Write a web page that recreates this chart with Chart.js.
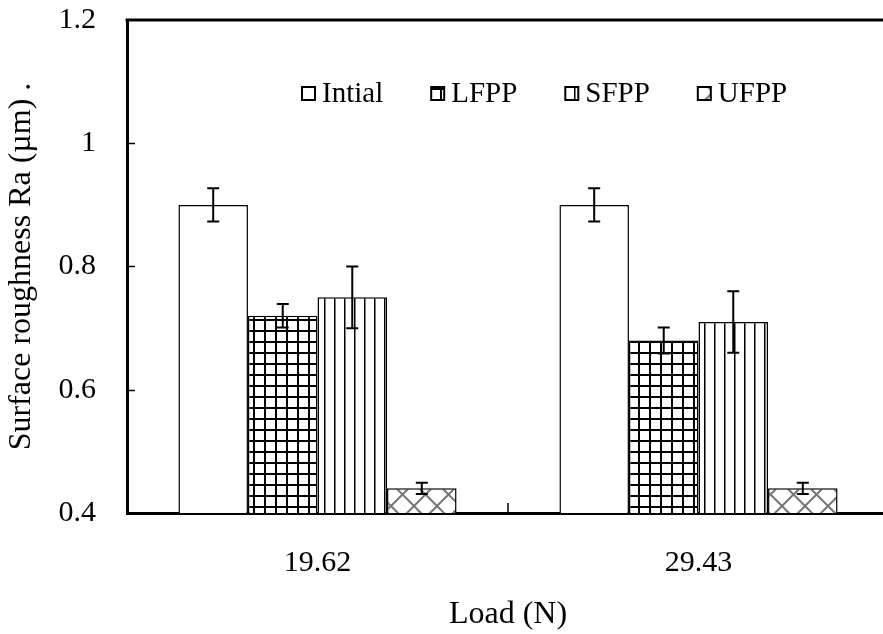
<!DOCTYPE html>
<html>
<head>
<meta charset="utf-8">
<script src="https://cdn.jsdelivr.net/npm/chart.js@4"></script>
<style>
  html, body { margin: 0; padding: 0; overflow: hidden; background: #fff; }
</style>
</head>
<body>
<canvas id="myChart" width="890" height="634"></canvas>
<script>
// data
const loads = ['19.62', '29.43'];
const seriesNames = ['Intial', 'LFPP', 'SFPP', 'UFPP'];
const intial = [0.90, 0.90];
const lfpp = [0.72, 0.68];
const sfpp = [0.75, 0.71];
const ufpp = [0.44, 0.44];
const intialErr = [0.027, 0.027];
const lfppErr = [0.019, 0.021];
const sfppErr = [0.05, 0.05];
const ufppErr = [0.009, 0.009];
const yMin = 0.4, yMax = 1.2, yStep = 0.2;

const FONT = 'Liberation Serif, Times New Roman, serif';
const ctx = document.getElementById('myChart').getContext('2d');

// hatch patterns
function makePattern(w, h, draw) {
    const c = document.createElement('canvas');
    c.width = w; c.height = h;
    const g = c.getContext('2d');
    g.fillStyle = '#fff';
    g.fillRect(0, 0, w, h);
    draw(g, w, h);
    return ctx.createPattern(c, 'repeat');
}
const plainFill = '#ffffff';
const gridFill = makePattern(11, 11, (g) => {
    g.fillStyle = '#000';
    g.fillRect(0, 0, 2, 11);
    g.fillRect(0, 0, 11, 2);
});
const vlineFill = makePattern(10, 10, (g) => {
    g.fillStyle = '#000';
    g.fillRect(4, 0, 1.5, 10);
});
const crossFill = makePattern(23, 23, (g, s) => {
    g.strokeStyle = '#777';
    g.lineWidth = 2;
    for (const dx of [-s, 0, s]) {
        g.beginPath();
        g.moveTo(dx, 0); g.lineTo(dx + s, s);
        g.moveTo(dx + s, 0); g.lineTo(dx, s);
        g.stroke();
    }
});

const values = [intial, lfpp, sfpp, ufpp];
const errors = [intialErr, lfppErr, sfppErr, ufppErr];
const fills = [plainFill, gridFill, vlineFill, crossFill];

// error bars
const errorBars = {
    id: 'errorBars',
    afterDatasetsDraw(chart) {
        const y = chart.scales.y;
        const c = chart.ctx;
        c.save();
        c.strokeStyle = '#000';
        c.lineWidth = 2;
        chart.data.datasets.forEach((ds, i) => {
            chart.getDatasetMeta(i).data.forEach((bar, j) => {
                const v = ds.data[j], e = errors[i][j];
                const top = y.getPixelForValue(v + e);
                const bot = y.getPixelForValue(v - e);
                c.beginPath();
                c.moveTo(bar.x, top); c.lineTo(bar.x, bot);
                c.moveTo(bar.x - 6, top); c.lineTo(bar.x + 6, top);
                c.moveTo(bar.x - 6, bot); c.lineTo(bar.x + 6, bot);
                c.stroke();
            });
        });
        c.restore();
    }
};

// frame: top line and inward tick marks
const frame = {
    id: 'frame',
    afterDraw(chart) {
        const {ctx: c, chartArea: a, scales: {x, y}} = chart;
        c.save();
        c.strokeStyle = '#000';
        c.lineWidth = 3;
        c.beginPath();
        c.moveTo(a.left - 1.5, a.top); c.lineTo(a.right, a.top);
        c.stroke();
        c.lineWidth = 1.5;
        c.beginPath();
        for (let v = yMin + yStep; v < yMax - 0.01; v += yStep) {
            const py = Math.round(y.getPixelForValue(v)) + 0.5;
            c.moveTo(a.left, py); c.lineTo(a.left + 8, py);
        }
        const mid = (x.getPixelForValue(0) + x.getPixelForValue(1)) / 2;
        c.moveTo(mid, a.bottom); c.lineTo(mid, a.bottom - 10);
        c.stroke();
        c.restore();
    }
};

// legend inside the plot area
const innerLegend = {
    id: 'innerLegend',
    afterDraw(chart) {
        const {ctx: c, chartArea: a} = chart;
        c.save();
        c.font = '29px ' + FONT;
        c.textBaseline = 'middle';
        c.fillStyle = '#000';
        let px = a.left + 175;
        const py = a.top + 73;
        chart.data.datasets.forEach((ds) => {
            c.fillStyle = ds.backgroundColor;
            c.fillRect(px, py - 6, 13, 13);
            c.strokeStyle = '#000';
            c.lineWidth = 2;
            c.strokeRect(px, py - 6, 13, 13);
            c.fillStyle = '#000';
            c.fillText(ds.label, px + 20, py + 1);
            px += 20 + c.measureText(ds.label).width + 48;
        });
        c.restore();
    }
};

const tickFont = { family: FONT, size: 30 };
const titleFont = { family: FONT, size: 32 };

new Chart(ctx, {
    type: 'bar',
    data: {
        labels: loads,
        datasets: seriesNames.map((name, i) => ({
            label: name,
            data: values[i],
            backgroundColor: fills[i],
            borderColor: '#000',
            borderWidth: 1.5,
            barPercentage: 1,
            categoryPercentage: 0.73
        }))
    },
    options: {
        responsive: false,
        animation: false,
        layout: { padding: { top: 20, right: 1, left: 0, bottom: 0 } },
        plugins: {
            legend: { display: false },
            tooltip: { enabled: false }
        },
        scales: {
            x: {
                grid: { display: false, drawTicks: false },
                border: { display: true, width: 3, color: '#000' },
                ticks: { color: '#000', font: tickFont, padding: 32 },
                title: {
                    display: true,
                    text: 'Load (N)',
                    color: '#000',
                    font: titleFont,
                    padding: { top: 0, bottom: 0 }
                },
                afterFit: (s) => {
                    s.height = 121;
                    s.paddingLeft = 0;
                    s.paddingRight = 0;
                }
            },
            y: {
                min: yMin,
                max: yMax,
                grid: { display: false, drawTicks: false },
                border: { display: true, width: 3, color: '#000' },
                ticks: {
                    stepSize: yStep,
                    color: '#000',
                    font: tickFont,
                    padding: 31,
                    callback: (v) => String(+v.toFixed(1))
                },
                title: {
                    display: true,
                    text: 'Surface roughness Ra (µm) .',
                    color: '#000',
                    font: titleFont,
                    padding: { top: 2, bottom: 0 }
                },
                afterFit: (s) => {
                    s.width = 127;
                    s.paddingTop = 0;
                    s.paddingBottom = 0;
                }
            }
        }
    },
    plugins: [errorBars, frame, innerLegend]
});
</script>
</body>
</html>
